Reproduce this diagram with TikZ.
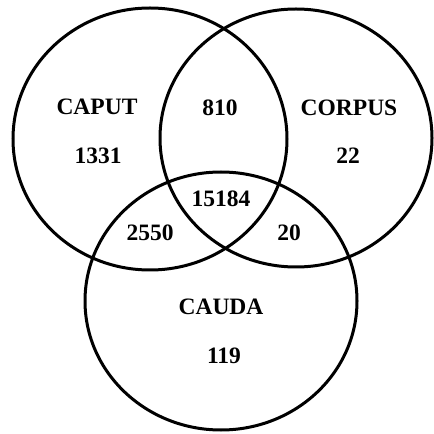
\documentclass[tikz,border=0pt]{standalone}
\usepackage{fontspec}
\setmainfont{Liberation Serif}
\begin{document}
\begin{tikzpicture}[
  font=\fontsize{23.5}{28}\selectfont\bfseries,
  set/.style={line width=3pt},
  lab/.style={inner sep=0pt}
]
\useasboundingbox (0pt,0pt) rectangle (434pt,434pt);

% the three sets
\draw[set] (150pt,295pt) ellipse [x radius=137pt, y radius=131pt];
\draw[set] (296pt,296pt) ellipse [x radius=136pt, y radius=129pt];
\draw[set] (221pt,133pt) ellipse [x radius=136pt, y radius=129pt];

\node[lab] (caput) at (97pt,327pt) {CAPUT};
\node[lab] (caputn) at (98pt,278pt) {1331};
\node[lab] (corpus) at (349pt,326pt) {CORPUS};
\node[lab] (corpusn) at (348pt,278pt) {22};
\node[lab] (cauda) at (221pt,127pt) {CAUDA};
\node[lab] (caudan) at (224pt,78pt) {119};

\node[lab] (capcor) at (220pt,326pt) {810};
\node[lab] (capcau) at (150pt,201pt) {2550};
\node[lab] (corcau) at (289pt,201pt) {20};
\node[lab] (all) at (221pt,235pt) {15184};
\end{tikzpicture}
\end{document}
